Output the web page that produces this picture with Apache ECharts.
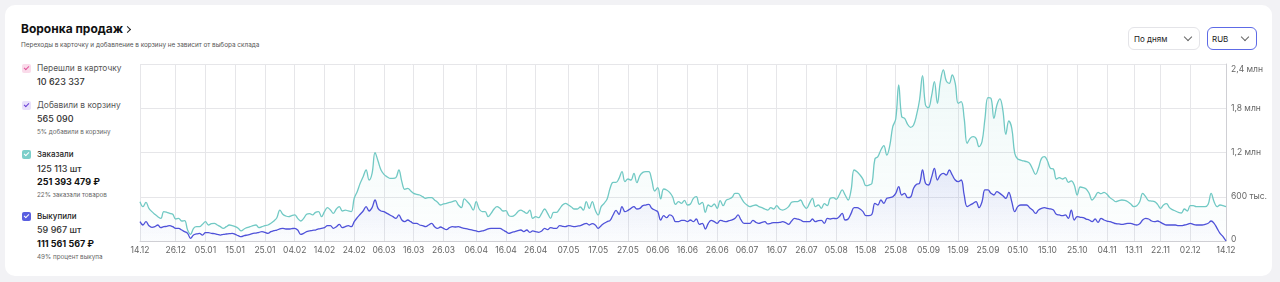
<!DOCTYPE html>
<html>
<head>
<meta charset="utf-8">
<script src="https://cdn.jsdelivr.net/npm/echarts@6/dist/echarts.min.js"></script>
<style>
  html, body { margin:0; padding:0; width:1280px; height:282px; background:#f2f2f5; overflow:hidden;
    font-family: Inter, "Noto Sans", "DejaVu Sans", sans-serif; }
  #card { position:absolute; left:5px; top:5px; width:1267px; height:271px; background:#fff; border-radius:10px; }
  #chart { position:absolute; left:0; top:0; width:1280px; height:282px; }
  .t { position:absolute; white-space:nowrap; line-height:12px; height:12px; }
  .cb { position:absolute; width:9px; height:9px; border-radius:2px; }
  .cb::after { content:""; position:absolute; left:3px; top:1.2px; width:2px; height:4px;
    border-right:1.2px solid var(--c); border-bottom:1.2px solid var(--c); transform:rotate(45deg); }
  .dd { position:absolute; box-sizing:border-box; border-radius:6px; background:#fff; }
  .chev { position:absolute; width:5px; height:5px; border-right:1px solid #666; border-bottom:1px solid #666; transform:rotate(45deg); }
</style>
</head>
<body>
<div id="card"></div>

<div class="t" style="left:21px; top:22px; line-height:14px; height:14px; font-size:12px; font-weight:700; color:#111;">Воронка продаж</div>
<div style="position:absolute; left:124.5px; top:26.5px; width:4px; height:4px; border-right:1.2px solid #222; border-top:1.2px solid #222; transform:rotate(45deg);"></div>
<div class="t" style="left:21px; top:39px; font-size:6.4px; color:#555;">Переходы в карточку и добавление в корзину не зависит от выбора склада</div>

<div class="dd" style="left:1128px; top:27px; width:72px; height:23px; border:1px solid #e4e4e8;"></div>
<div class="t" style="left:1134px; top:32.5px; font-size:8px; color:#222;">По дням</div>
<div class="chev" style="left:1185px; top:34px;"></div>
<div class="dd" style="left:1207px; top:27px; width:50px; height:23px; border:1.3px solid #5d6ae6;"></div>
<div class="t" style="left:1212px; top:32.5px; font-size:8px; color:#222;">RUB</div>
<div class="chev" style="left:1242px; top:34px;"></div>

<div class="cb" style="left:22px; top:63.5px; background:#fadbea; --c:#e0579c;"></div>
<div class="t" style="left:37px; top:62px; font-size:8.4px; color:#555;">Перешли в карточку</div>
<div class="t" style="left:37px; top:76px; font-size:9px; color:#333; font-weight:500;">10 623 337</div>

<div class="cb" style="left:22px; top:100.5px; background:#e9e1fb; --c:#6a3fd6;"></div>
<div class="t" style="left:37px; top:99px; font-size:8.4px; color:#555;">Добавили в корзину</div>
<div class="t" style="left:37px; top:113px; font-size:9px; color:#333; font-weight:500;">565 090</div>
<div class="t" style="left:37px; top:125.5px; font-size:6.3px; color:#666;">5% добавили в корзину</div>

<div class="cb" style="left:22px; top:149.5px; background:#7ccfca; --c:#fff;"></div>
<div class="t" style="left:37px; top:148px; font-size:8px; color:#222; font-weight:500;">Заказали</div>
<div class="t" style="left:37px; top:162.5px; font-size:9px; color:#333; font-weight:500;">125 113 шт</div>
<div class="t" style="left:37px; top:176px; font-size:9px; color:#111; font-weight:700;">251 393 479 ₽</div>
<div class="t" style="left:37px; top:189px; font-size:6.3px; color:#666;">22% заказали товаров</div>

<div class="cb" style="left:22px; top:211.5px; background:#5a5fe0; --c:#fff;"></div>
<div class="t" style="left:37px; top:210px; font-size:8px; color:#222; font-weight:500;">Выкупили</div>
<div class="t" style="left:37px; top:224px; font-size:9px; color:#333; font-weight:500;">59 967 шт</div>
<div class="t" style="left:37px; top:238px; font-size:9px; color:#111; font-weight:700;">111 561 567 ₽</div>
<div class="t" style="left:37px; top:251px; font-size:6.3px; color:#666;">49% процент выкупа</div>

<div id="chart"></div>

<script>
// Daily categories 14.12.2024 .. 14.12.2025
const startDate = [2024, 11, 14];
const dayCount = 366;
const categories = [];
for (let i = 0; i < dayCount; i++) {
  const d = new Date(Date.UTC(startDate[0], startDate[1], startDate[2] + i));
  categories.push(String(d.getUTCDate()).padStart(2, '0') + '.' + String(d.getUTCMonth() + 1).padStart(2, '0'));
}

const tickLabels = ['14.12','26.12','05.01','15.01','25.01','04.02','14.02','24.02','06.03','16.03','26.03',
  '06.04','16.04','26.04','07.05','17.05','27.05','06.06','16.06','26.06','06.07','16.07','26.07',
  '05.08','15.08','25.08','05.09','15.09','25.09','05.10','15.10','25.10','04.11','13.11','22.11','02.12'];

const yTicks = [0, 600, 1200, 1800, 2400]; // thousand RUB

// "Заказали", thousand RUB
const ordered = [
  533,466,524,443,398,362,330,307,398,389,
  375,362,298,307,271,276,149,90,172,194,
  194,226,262,217,235,240,217,194,172,194,
  217,208,194,172,136,163,181,194,208,217,
  181,194,208,217,240,271,316,420,362,339,
  330,344,353,307,271,307,362,371,353,389,
  398,330,398,452,420,375,434,466,407,420,
  407,398,579,669,782,872,963,827,918,1198,
  1085,963,904,872,850,850,859,963,805,701,
  714,678,646,633,624,601,579,588,588,556,
  524,488,502,511,524,533,547,488,452,570,
  533,488,420,533,434,398,398,330,375,434,
  466,443,407,411,344,334,353,398,
  420,398,375,420,307,330,316,375,434,375,
  307,389,389,434,488,511,488,461,434,434,
  461,420,533,443,533,420,353,466,511,570,
  714,796,796,850,940,805,841,827,918,791,
  886,931,940,940,827,678,723,570,705,692,
  660,601,497,533,511,551,488,502,579,601,
  497,524,389,488,466,502,443,547,479,551,
  570,592,646,646,588,524,488,466,479,488,
  466,452,434,420,452,434,479,434,420,434,
  466,524,533,533,556,488,443,511,579,466,
  488,443,506,
  479,579,588,565,624,692,624,556,692,963,
  940,895,836,750,759,782,1112,1144,1234,1293,
  1166,1293,1550,1654,2115,1686,1663,1582,1541,1573,
  1709,1912,2242,1844,1808,1957,2161,1867,2161,2319,
  2170,2138,2251,2138,1867,1889,1663,1324,1392,1415,
  1392,1279,1347,1663,1944,1935,1663,1844,1926,1776,
  1446,1627,1528,1189,1112,1098,1085,1076,1053,976,
  904,994,1121,1144,1085,985,976,841,859,841,
  859,796,814,759,624,732,723,705,646,556,
  601,660,642,660,633,588,560,533,547,556,
  551,533,502,466,479,533,646,601,547,542,
  533,497,443,488,506,452,425,407,389,380,
  434,407,479,479,466,466,466,466,497,646,
  533,466,488,479,466
];

// "Выкупили", thousand RUB
const bought = [
  262,217,262,208,185,194,217,181,194,199,
  208,194,172,172,149,127,104,36,81,95,
  104,81,113,113,104,99,90,81,90,95,
  99,104,90,72,59,72,81,90,104,108,
  118,127,118,104,127,140,149,163,172,163,
  163,167,172,149,90,104,127,136,145,149,
  163,172,181,208,208,172,194,226,181,194,
  208,194,262,316,362,407,466,407,452,556,
  443,407,398,375,353,330,307,353,285,262,
  285,262,240,240,217,208,194,217,240,194,
  172,190,172,154,181,194,190,194,181,172,
  163,154,145,136,127,136,149,163,172,172,
  172,172,149,127,104,118,127,140,
  149,127,149,118,136,127,118,136,172,154,
  181,172,172,208,199,194,208,203,194,203,
  208,226,240,217,235,217,172,208,240,262,
  280,353,416,362,466,398,416,443,466,434,
  443,479,488,497,443,420,398,285,344,316,
  353,334,262,262,280,280,262,285,262,298,
  226,240,163,240,280,262,240,280,271,262,
  276,285,307,353,285,240,240,240,280,253,
  240,253,262,231,240,249,249,253,262,249,
  226,271,307,298,285,262,262,262,298,262,
  276,280,240,
  307,298,307,303,330,375,285,298,375,452,
  452,434,398,344,344,362,511,488,556,511,
  579,588,601,646,737,624,646,588,597,714,
  768,782,963,782,759,859,985,827,895,918,
  895,963,895,827,805,827,624,466,488,511,
  533,452,533,692,692,646,624,669,646,615,
  579,660,533,398,466,488,488,488,452,420,
  375,420,443,452,443,434,420,362,353,344,
  353,307,420,285,330,321,316,298,285,262,
  298,253,307,285,271,262,249,235,231,226,
  231,240,240,226,217,235,285,307,298,271,
  262,271,253,231,217,217,217,217,208,208,
  217,226,240,226,217,217,217,226,240,271,
  240,172,104,59,0
];

const chart = echarts.init(document.getElementById('chart'), null, { renderer: 'canvas' });
const tickFn = (idx, val) => tickLabels.indexOf(val) >= 0;
const fmtY = v => v === 0 ? '0' : (v < 1000 ? v + ' тыс.' : (v / 1000).toFixed(1).replace('.', ',') + ' млн');

chart.setOption({
  backgroundColor: 'transparent',
  animation: false,
  textStyle: { fontFamily: 'Inter, "Noto Sans", sans-serif' },
  grid: { left: 140, right: 54, top: 64, bottom: 41 },
  xAxis: {
    type: 'category',
    data: categories,
    boundaryGap: false,
    axisLine: { show: true, lineStyle: { color: '#cfcfd4', width: 1 } },
    axisTick: { show: false },
    axisLabel: { interval: tickFn, fontSize: 8.5, color: '#666', margin: 5, showMaxLabel: true },
    splitLine: { show: true, interval: tickFn, lineStyle: { color: '#e6e6e9', width: 1 } }
  },
  yAxis: {
    type: 'value',
    position: 'right',
    min: yTicks[0],
    max: yTicks[yTicks.length - 1],
    interval: yTicks[1] - yTicks[0],
    axisLine: { show: true, lineStyle: { color: '#cfcfd4', width: 1 } },
    axisTick: { show: false },
    axisLabel: {
      fontSize: 8.5, color: '#666', margin: 5,
      formatter: v => v === yTicks[yTicks.length - 1] ? '{top|' + fmtY(v) + '}' : (v === 0 ? '{bot|0}' : fmtY(v)),
      rich: {
        top: { fontSize: 8.5, color: '#666', padding: [11, 0, 0, 0] },
        bot: { fontSize: 8.5, color: '#666', padding: [0, 0, 3, 0] }
      }
    },
    splitLine: { show: true, lineStyle: { color: '#e6e6e9', width: 1 } }
  },
  series: [
    {
      name: 'Заказали',
      type: 'line',
      data: ordered,
      smooth: 0.4,
      symbol: 'none',
      lineStyle: { color: '#71c9c4', width: 1.3 },
      itemStyle: { color: '#71c9c4' },
      areaStyle: {
        color: new echarts.graphic.LinearGradient(0, 0, 0, 1, [
          { offset: 0, color: 'rgba(113,201,196,0.16)' },
          { offset: 1, color: 'rgba(113,201,196,0.02)' }
        ])
      },
      z: 2
    },
    {
      name: 'Выкупили',
      type: 'line',
      data: bought,
      smooth: 0.4,
      symbol: 'none',
      lineStyle: { color: '#4f52d9', width: 1.3 },
      itemStyle: { color: '#4f52d9' },
      areaStyle: {
        color: new echarts.graphic.LinearGradient(0, 0, 0, 1, [
          { offset: 0, color: 'rgba(95,98,220,0.18)' },
          { offset: 1, color: 'rgba(95,98,220,0.02)' }
        ])
      },
      z: 3
    }
  ]
});
</script>
</body>
</html>
